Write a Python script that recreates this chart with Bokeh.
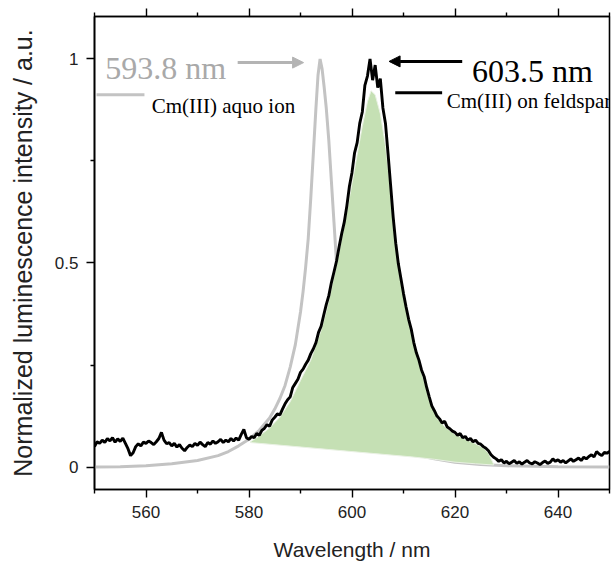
from bokeh.plotting import figure
from bokeh.models import (LinearAxis, FixedTicker, Arrow, NormalHead, Label,
                          CustomLabelingPolicy)
from bokeh.embed import file_html
from bokeh.resources import INLINE

# ---------------- data ----------------
# Cm(III) on feldspar (black, measured spectrum)
wl_feldspar = [
    550.0, 550.5, 551.0, 551.5, 552.0, 552.5, 553.0, 553.5, 554.0, 554.5,
    555.0, 555.5, 556.0, 556.5, 557.0, 557.5, 558.0, 558.5, 559.0, 559.5,
    560.0, 560.5, 561.0, 561.5, 562.0, 562.5, 563.0, 563.5, 564.0, 564.5,
    565.0, 565.5, 566.0, 566.5, 567.0, 567.5, 568.0, 568.5, 569.0, 569.5,
    570.0, 570.5, 571.0, 571.5, 572.0, 572.5, 573.0, 573.5, 574.0, 574.5,
    575.0, 575.5, 576.0, 576.5, 577.0, 577.5, 578.0, 578.5, 579.0, 579.5,
    580.0, 580.5, 581.0, 581.5, 582.0, 582.5, 583.0, 583.5, 584.0, 584.5,
    585.0, 585.5, 586.0, 586.5, 587.0, 587.5, 588.0, 588.5, 589.0, 589.5,
    590.0, 590.5, 591.0, 591.5, 592.0, 592.5, 593.0, 593.5, 594.0, 594.5,
    595.0, 595.5, 596.0, 596.5, 597.0, 597.5, 598.0, 598.5, 599.0, 599.5,
    600.0, 600.5, 601.0, 601.5, 602.0, 602.5, 603.0, 603.5, 604.0, 604.5,
    605.0, 605.5, 606.0, 606.5, 607.0, 607.5, 608.0, 608.5, 609.0, 609.5,
    610.0, 610.5, 611.0, 611.5, 612.0, 612.5, 613.0, 613.5, 614.0, 614.5,
    615.0, 615.5, 616.0, 616.5, 617.0, 617.5, 618.0, 618.5, 619.0, 619.5,
    620.0, 620.5, 621.0, 621.5, 622.0, 622.5, 623.0, 623.5, 624.0, 624.5,
    625.0, 625.5, 626.0, 626.5, 627.0, 627.5, 628.0, 628.5, 629.0, 629.5,
    630.0, 630.5, 631.0, 631.5, 632.0, 632.5, 633.0, 633.5, 634.0, 634.5,
    635.0, 635.5, 636.0, 636.5, 637.0, 637.5, 638.0, 638.5, 639.0, 639.5,
    640.0, 640.5, 641.0, 641.5, 642.0, 642.5, 643.0, 643.5, 644.0, 644.5,
    645.0, 645.5, 646.0, 646.5, 647.0, 647.5, 648.0, 648.5, 649.0, 649.5,
    650.0,
]
int_feldspar = [
    0.050, 0.062, 0.058, 0.066, 0.060, 0.070, 0.064, 0.072, 0.061, 0.069,
    0.063, 0.071, 0.058, 0.045, 0.028, 0.035, 0.050, 0.057, 0.052, 0.061,
    0.058, 0.064, 0.060, 0.055, 0.062, 0.070, 0.085, 0.066, 0.057, 0.060,
    0.052, 0.058, 0.049, 0.055, 0.046, 0.040, 0.048, 0.054, 0.050, 0.058,
    0.053, 0.061, 0.055, 0.050, 0.060, 0.056, 0.064, 0.058, 0.062, 0.068,
    0.060, 0.066, 0.062, 0.070, 0.064, 0.071, 0.066, 0.080, 0.092, 0.072,
    0.068, 0.075, 0.072, 0.082, 0.078, 0.090, 0.095, 0.104, 0.100, 0.115,
    0.122, 0.130, 0.128, 0.142, 0.155, 0.165, 0.172, 0.195, 0.205, 0.215,
    0.232, 0.240, 0.252, 0.262, 0.278, 0.290, 0.305, 0.330, 0.345, 0.372,
    0.398, 0.420, 0.452, 0.478, 0.505, 0.540, 0.572, 0.600, 0.640, 0.688,
    0.722, 0.770, 0.795, 0.842, 0.870, 0.935, 0.958, 1.000, 0.948, 0.985,
    0.930, 0.952, 0.880, 0.842, 0.768, 0.690, 0.612, 0.548, 0.498, 0.462,
    0.425, 0.392, 0.362, 0.338, 0.305, 0.280, 0.262, 0.238, 0.222, 0.195,
    0.172, 0.150, 0.138, 0.125, 0.118, 0.108, 0.112, 0.098, 0.094, 0.088,
    0.085, 0.078, 0.082, 0.072, 0.075, 0.066, 0.070, 0.062, 0.066, 0.058,
    0.056, 0.050, 0.046, 0.040, 0.030, 0.024, 0.020, 0.014, 0.018, 0.010,
    0.014, 0.008, 0.012, 0.016, 0.009, 0.013, 0.007, 0.012, 0.016, 0.010,
    0.008, 0.013, 0.010, 0.006, 0.011, 0.015, 0.009, 0.012, 0.020, 0.014,
    0.018, 0.012, 0.016, 0.010, 0.015, 0.020, 0.014, 0.018, 0.022, 0.016,
    0.024, 0.020, 0.026, 0.030, 0.025, 0.038, 0.032, 0.028, 0.036, 0.034,
    0.038,
]

# Cm(III) aquo ion (grey reference spectrum)
wl_aquo = [550, 555, 560, 565, 570, 574, 576, 578, 580, 582, 584, 585, 586,
           587, 588, 589, 590, 590.5, 591, 591.5, 592, 592.5, 593, 593.4,
           593.8, 594.2, 594.6, 595, 595.5, 596, 596.5, 597, 597.5, 598,
           598.5, 599, 600, 601, 602, 603, 605, 607.5, 610, 613, 616, 620,
           625, 630, 640, 650]
int_aquo = [0.000, 0.001, 0.003, 0.008, 0.016, 0.028, 0.038, 0.052, 0.068,
            0.090, 0.120, 0.142, 0.168, 0.200, 0.245, 0.300, 0.380, 0.430,
            0.490, 0.560, 0.660, 0.770, 0.880, 0.960, 1.000, 0.975, 0.930,
            0.880, 0.800, 0.700, 0.600, 0.500, 0.410, 0.340, 0.285, 0.240,
            0.180, 0.140, 0.115, 0.095, 0.072, 0.055, 0.037, 0.028, 0.020,
            0.012, 0.006, 0.003, 0.001, 0.000]

# fitted 603.5 nm species (green area): upper curve and baseline
wl_fit = [580.3, 582, 584, 586, 588, 590, 592, 594, 595, 596, 597, 598, 599,
          600, 601, 602, 603, 603.7, 604.5, 605.5, 606.5, 607.5, 608.5, 609.5,
          610.5, 611.5, 612.5, 613.5, 614.5, 615.5, 616.5, 618, 620, 622, 624,
          625.5, 626.5, 627.5]
int_fit = [0.062, 0.076, 0.096, 0.122, 0.160, 0.212, 0.262, 0.335, 0.382,
           0.437, 0.496, 0.560, 0.625, 0.695, 0.765, 0.835, 0.895, 0.922,
           0.912, 0.866, 0.788, 0.680, 0.560, 0.465, 0.395, 0.338, 0.284,
           0.233, 0.188, 0.148, 0.120, 0.099, 0.080, 0.068, 0.057, 0.047,
           0.034, 0.007]
wl_base = [580.3, 611.5, 616, 620, 624, 627.5]
int_base = [0.060, 0.025, 0.019, 0.012, 0.008, 0.005]

x_major = [560, 580, 600, 620, 640]
x_minor = [550, 570, 590, 610, 630, 650]
y_major = [0, 0.5, 1]
y_minor = [0.25, 0.75]
y_labels = {0: "0", 0.5: "0.5", 1: "1"}

# ---------------- figure ----------------
p = figure(width=611, height=563, x_range=(550, 650), y_range=(-0.055, 1.104),
           output_backend="svg", toolbar_location=None,
           min_border_left=94, min_border_right=2, min_border_top=16,
           min_border_bottom=74)
p.xgrid.visible = False
p.ygrid.visible = False
p.outline_line_color = "black"
p.outline_line_width = 1.6
p.background_fill_color = "white"
p.border_fill_color = "white"

sans = "Liberation Sans"
serif = "Liberation Serif"

xt = FixedTicker(ticks=x_major, minor_ticks=x_minor)
yt = FixedTicker(ticks=y_major, minor_ticks=y_minor)

xa = p.xaxis[0]
xa.ticker = xt
xa.axis_label = "Wavelength / nm"
xa.axis_label_text_font = sans
xa.axis_label_text_font_style = "normal"
xa.axis_label_text_font_size = "21px"
xa.axis_label_text_color = "#222222"
xa.axis_label_standoff = 17
xa.major_label_text_font = sans
xa.major_label_text_font_size = "17px"
xa.major_label_text_color = "#222222"
xa.major_label_standoff = 8

ya = p.yaxis[0]
ya.ticker = yt
ya.major_label_overrides = y_labels
ya.axis_label = "Normalized luminescence intensity / a.u."
ya.axis_label_text_font = sans
ya.axis_label_text_font_style = "normal"
ya.axis_label_text_font_size = "25px"
ya.axis_label_text_color = "#222222"
ya.axis_label_standoff = 15
ya.major_label_text_font = sans
ya.major_label_text_font_size = "17px"
ya.major_label_text_color = "#222222"
ya.major_label_standoff = 8

top = LinearAxis(ticker=FixedTicker(ticks=x_major, minor_ticks=x_minor),
                 major_label_text_font_size="0px", major_label_standoff=0,
                 major_label_policy=CustomLabelingPolicy(code="return new Set()"))
p.add_layout(top, "above")

for ax in [xa, ya, top]:
    ax.axis_line_color = "black"
    ax.axis_line_width = 1.6
    ax.major_tick_line_color = "black"
    ax.minor_tick_line_color = "black"
    ax.major_tick_line_width = 1.4
    ax.minor_tick_line_width = 1.4
    ax.major_tick_in = 0
    ax.major_tick_out = 8
    ax.minor_tick_in = 0
    ax.minor_tick_out = 4

# ---------------- glyphs ----------------
p.line(wl_aquo, int_aquo, line_color="#c3c3c3", line_width=3)

patch_x = wl_fit + wl_base[::-1]
patch_y = int_fit + int_base[::-1]
p.patch(patch_x, patch_y, fill_color="#c5e0b4", line_color="#e9f1e3",
        line_width=1)

p.line(wl_feldspar, int_feldspar, line_color="black", line_width=2.9)

# ---------------- annotations ----------------
grey_txt = "#a9a9a9"
p.add_layout(Label(x=552.1, y=0.978, text="593.8 nm", text_font=serif,
                   text_font_size="32px", text_color=grey_txt,
                   text_baseline="alphabetic"))
p.add_layout(Arrow(x_start=577.8, y_start=0.991, x_end=590.6, y_end=0.991,
                   line_color="#b4b4b4", line_width=3,
                   end=NormalHead(size=11, fill_color="#b4b4b4",
                                  line_color="#b4b4b4")))
p.add_layout(Label(x=623.3, y=0.970, text="603.5 nm", text_font=serif,
                   text_font_size="32px", text_color="black",
                   text_baseline="alphabetic"))
p.add_layout(Arrow(x_start=621.4, y_start=0.994, x_end=607.2, y_end=0.994,
                   line_color="black", line_width=3,
                   end=NormalHead(size=11, fill_color="black",
                                  line_color="black")))

# legend entries
p.segment(x0=[550.4], y0=[0.912], x1=[559.7], y1=[0.912],
          line_color="#c3c3c3", line_width=3)
p.add_layout(Label(x=561.1, y=0.884, text="Cm(III) aquo ion", text_font=serif,
                   text_font_size="21px", text_color="black",
                   text_baseline="alphabetic"))
p.segment(x0=[608.4], y0=[0.917], x1=[617.5], y1=[0.917],
          line_color="black", line_width=3)
p.add_layout(Label(x=618.4, y=0.896, text="Cm(III) on feldspar",
                   text_font=serif, text_font_size="21px", text_color="black",
                   text_baseline="alphabetic"))

open("out.html", "w").write(file_html(p, INLINE))
